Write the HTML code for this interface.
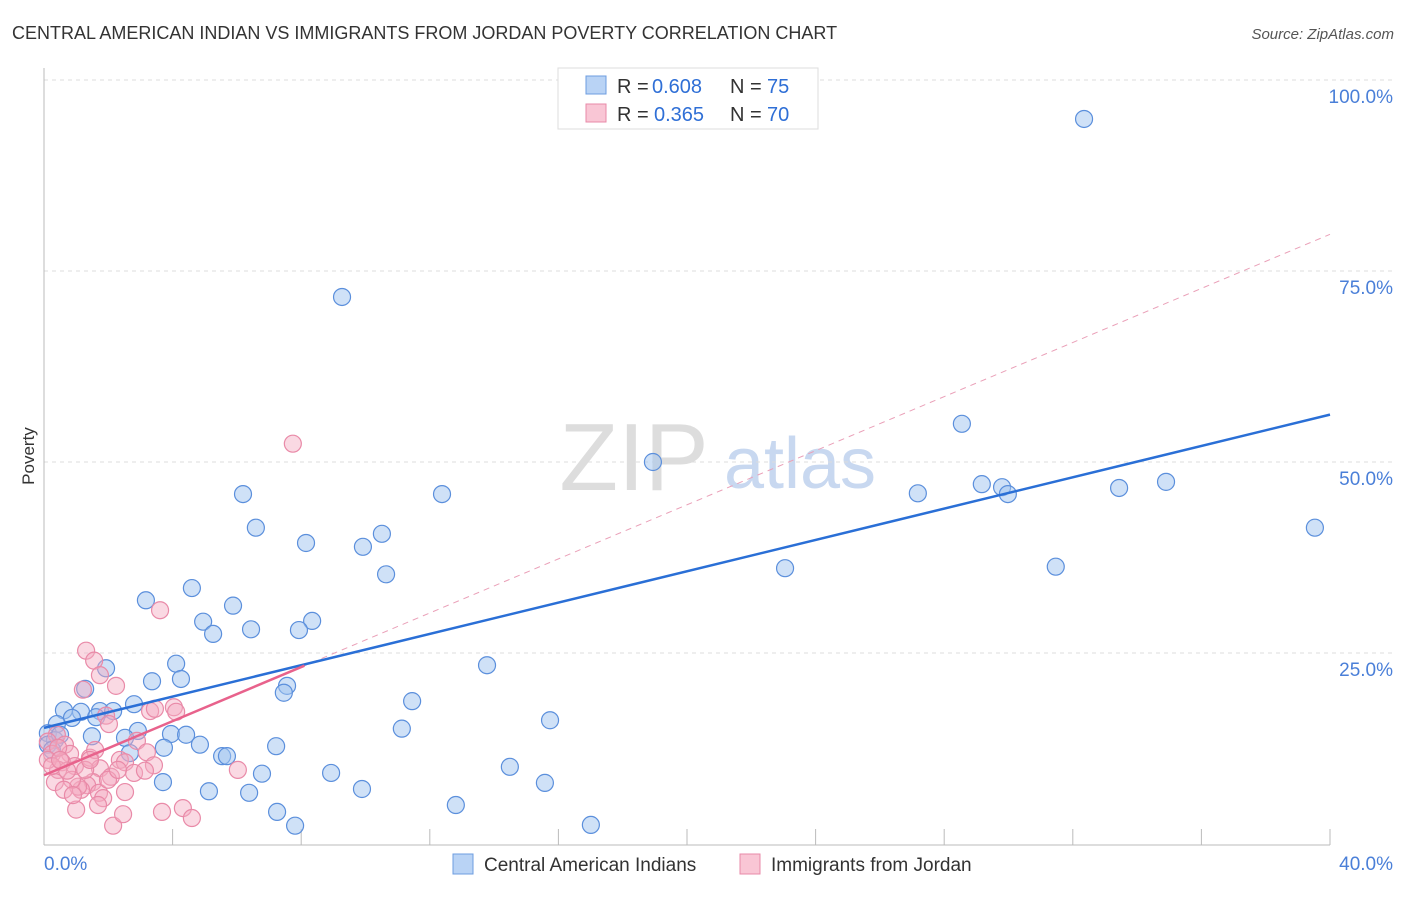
<!DOCTYPE html>
<html><head><meta charset="utf-8"><style>
body{margin:0;background:#fff;font-family:"Liberation Sans",sans-serif}
svg text{font-family:"Liberation Sans",sans-serif}
</style></head><body>
<svg id="chart" width="1406" height="892">
<text x="12" y="39" font-size="18" fill="#333">CENTRAL AMERICAN INDIAN VS IMMIGRANTS FROM JORDAN POVERTY CORRELATION CHART</text>
<text x="1394" y="39" font-size="15" fill="#555" font-style="italic" text-anchor="end">Source: ZipAtlas.com</text>
<text x="34" y="456" font-size="17" fill="#333" text-anchor="middle" transform="rotate(-90 34 456)">Poverty</text>
<g><text x="634" y="490" font-size="96" fill="#ddd" font-family="Liberation Serif" text-anchor="middle">ZIP</text><text x="800" y="488" font-size="72" fill="#c8d8f0" text-anchor="middle">atlas</text></g>
<g id="grid"></g><g id="axes"></g><g id="pts"></g><g id="lines"></g>
<g>
<rect x="558" y="68" width="260" height="61" fill="#fff" stroke="#ddd"/>
<rect x="586" y="76" width="20" height="18" fill="#b9d3f5" stroke="#6d9de0"/>
<text x="617" y="93" font-size="20" fill="#333">R =</text><text x="652" y="93" font-size="20" fill="#2f6fd6">0.608</text>
<text x="730" y="93" font-size="20" fill="#333">N =</text><text x="767" y="93" font-size="20" fill="#2f6fd6">75</text>
<rect x="586" y="104" width="20" height="18" fill="#f9c6d5" stroke="#e88aa8"/>
<text x="617" y="121" font-size="20" fill="#333">R =</text><text x="654" y="121" font-size="20" fill="#2f6fd6">0.365</text>
<text x="730" y="121" font-size="20" fill="#333">N =</text><text x="767" y="121" font-size="20" fill="#2f6fd6">70</text>
</g>
<g>
<rect x="453" y="854" width="20" height="20" fill="#b9d3f5" stroke="#6d9de0"/>
<text x="484" y="871" font-size="19" fill="#333">Central American Indians</text>
<rect x="740" y="854" width="20" height="20" fill="#f9c6d5" stroke="#e88aa8"/>
<text x="771" y="871" font-size="19" fill="#333">Immigrants from Jordan</text>
</g>
</svg>
<script>
const blueX=[32.35,9.27,28.55,18.94,6.19,12.38,27.18,29.17,29.8,29.98,33.44,34.9,39.53,6.59,8.15,9.92,10.51,23.05,31.47,10.64,4.6,3.17,5.88,4.95,8.34,5.26,6.44,7.93,4.11,13.78,1.93,3.36,4.26,7.56,7.46,1.28,11.45,0.62,2.8,1.15,1.74,2.15,0.87,1.62,0.4,11.13,15.74,0.12,1.49,2.92,2.52,3.95,4.42,0.34,3.73,4.85,7.22,2.67,5.54,5.69,14.49,6.78,8.93,3.7,15.58,5.13,6.38,9.89,12.81,7.25,7.81,17.01,0.12,0.25,0.5];
const blueY=[94.9,71.6,55.0,50.0,45.8,45.8,45.9,47.1,46.7,45.8,46.6,47.4,41.4,41.4,39.4,38.9,40.6,36.1,36.3,35.3,33.5,31.9,31.2,29.1,29.2,27.5,28.1,28.0,23.6,23.4,23.0,21.3,21.6,20.7,19.8,20.3,18.7,17.5,18.3,17.3,17.4,17.4,16.5,16.6,15.7,15.1,16.2,14.5,14.1,14.8,13.9,14.4,14.3,13.6,12.6,13.0,12.8,11.9,11.5,11.5,10.1,9.2,9.3,8.1,8.0,6.9,6.7,7.2,5.1,4.2,2.4,2.5,13.0,12.3,14.3];
const pinkX=[7.74,3.61,1.31,1.56,1.21,1.74,2.24,1.93,2.02,3.3,3.45,4.04,4.11,0.4,0.65,0.12,0.25,0.81,0.56,0.96,0.44,1.43,1.74,2.36,2.52,2.89,3.2,3.42,2.8,3.14,2.08,1.52,1.34,1.15,1.06,1.71,1.84,2.52,0.87,0.72,0.34,1.0,2.15,2.46,3.67,4.32,4.6,6.03,0.44,0.12,0.25,0.5,1.28,1.59,0.62,1.99,2.3,0.9,1.68,1.43];
const pinkY=[52.4,30.6,25.3,24.0,20.2,22.1,20.7,16.8,15.7,17.4,17.7,17.9,17.3,14.3,13.0,13.4,11.8,11.8,10.7,10.2,9.7,11.3,9.9,11.0,10.7,13.5,12.0,10.3,9.3,9.6,8.8,8.1,7.7,7.1,7.5,6.7,6.0,6.8,8.4,9.6,8.1,4.5,2.4,3.9,4.2,4.7,3.4,9.7,12.6,11.0,10.2,11.0,9.7,12.3,7.1,8.4,9.7,6.4,5.1,11.0];
const blueFit=[15.2,56.2];   // y at x=0 and x=40
const pinkFit=[9.0,1.77];    // intercept, slope
const yTicks=[25,50,75,100];
const xTicks=[0,4,8,12,16,20,24,28,32,36,40];
const NS='http://www.w3.org/2000/svg';
const sx=v=>44+v/40*1286, sy=v=>844-v/100*764;
function mk(t,a,p){const e=document.createElementNS(NS,t);for(const k in a)e.setAttribute(k,a[k]);p.appendChild(e);return e;}
const grid=document.getElementById('grid'),axes=document.getElementById('axes'),pts=document.getElementById('pts'),lines=document.getElementById('lines');
yTicks.forEach(v=>{
 const l=mk('line',{x1:44,x2:1394,y1:sy(v),y2:sy(v),stroke:'#ddd','stroke-dasharray':'4,4'},grid);
 
 
 const t=mk('text',{x:1393,y:sy(v)+23,'font-size':19,fill:'#4a7fd8','text-anchor':'end'},grid);t.textContent=v.toFixed(1)+'%';
 
 
});
mk('line',{x1:44,x2:44,y1:68,y2:845,stroke:'#bbb'},axes);
mk('line',{x1:44,x2:1330,y1:845,y2:845,stroke:'#bbb'},axes);
xTicks.forEach(v=>{const l=mk('line',{x1:sx(v),x2:sx(v),y1:829,y2:845,stroke:'#bbb'},axes);
 
 });
[[0,'start'],[40,'end']].forEach(([v,a])=>{const t=mk('text',{x:v==0?44:1393,y:870,'font-size':19,fill:'#4a7fd8','text-anchor':a},axes);t.textContent=v.toFixed(1)+'%';
 
 });
blueX.forEach((x,i)=>{const c=mk('circle',{cx:sx(x),cy:sy(blueY[i]),r:8.5,fill:'rgba(160,196,240,0.5)',stroke:'#5b8fdc','stroke-width':1.2},pts);
 
 });
pinkX.forEach((x,i)=>{const c=mk('circle',{cx:sx(x),cy:sy(pinkY[i]),r:8.5,fill:'rgba(245,170,192,0.45)',stroke:'#e98aa8','stroke-width':1.2},pts);
 
 });
const pd=mk('line',{x1:sx(8),y1:sy(pinkFit[0]+pinkFit[1]*8),x2:sx(40),y2:sy(pinkFit[0]+pinkFit[1]*40),stroke:'#eaa0b8','stroke-dasharray':'6,5','stroke-width':1},lines);


const bl=mk('line',{x1:sx(0),y1:sy(blueFit[0]),x2:sx(40),y2:sy(blueFit[1]),stroke:'#2a6fd6','stroke-width':2.5},lines);


const pl=mk('line',{x1:sx(0),y1:sy(pinkFit[0]),x2:sx(8.1),y2:sy(pinkFit[0]+pinkFit[1]*8.1),stroke:'#e8628c','stroke-width':2.5},lines);


</script>
</body></html>
